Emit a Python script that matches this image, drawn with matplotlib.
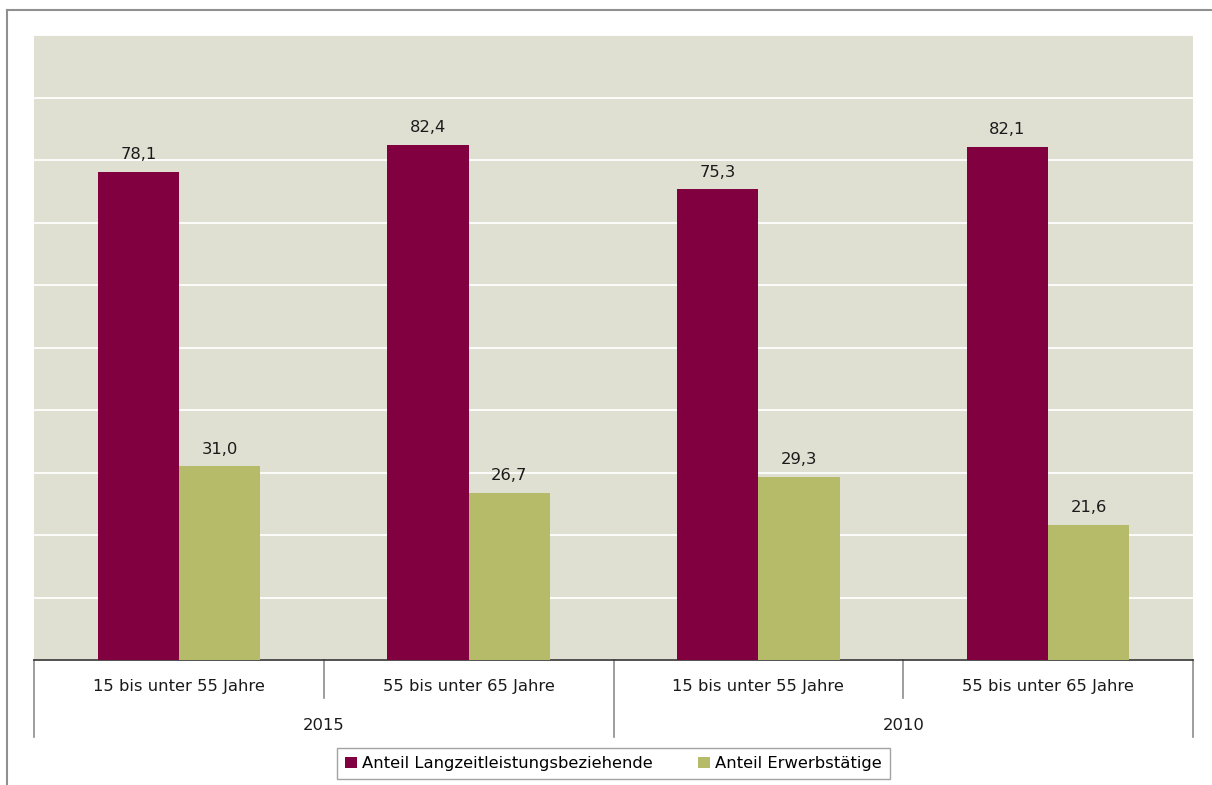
import matplotlib
matplotlib.use("Agg")
import matplotlib.pyplot as plt
from matplotlib.lines import Line2D
from matplotlib.patches import Patch
import matplotlib.transforms as mtransforms

# Data
age_groups = ["15 bis unter 55 Jahre", "55 bis unter 65 Jahre",
              "15 bis unter 55 Jahre", "55 bis unter 65 Jahre"]
years = ["2015", "2010"]
langzeit = [78.1, 82.4, 75.3, 82.1]
erwerb = [31.0, 26.7, 29.3, 21.6]
series_names = ["Anteil Langzeitleistungsbeziehende", "Anteil Erwerbstätige"]

MAROON = "#800040"
OLIVE = "#B6BB6A"
BG = "#DFE0D2"
FONT = "DejaVu Sans"

W, H = 1212, 785
fig = plt.figure(figsize=(W / 100, H / 100), dpi=100)
fig.patch.set_facecolor("white")

ax = fig.add_axes([34 / W, 1 - 660 / H, (1193 - 34) / W, (660 - 35) / H])
ax.set_facecolor(BG)

n = len(age_groups)
x = list(range(n))
bw = 0.28
b1 = ax.bar([i - bw / 2 for i in x], langzeit, width=bw, color=MAROON, zorder=3)
b2 = ax.bar([i + bw / 2 for i in x], erwerb, width=bw, color=OLIVE, zorder=3)

for bars, vals in ((b1, langzeit), (b2, erwerb)):
    for rect, v in zip(bars, vals):
        ax.annotate(f"{v:.1f}".replace(".", ","),
                    (rect.get_x() + rect.get_width() / 2, v),
                    xytext=(0, 7), textcoords="offset points",
                    ha="center", va="bottom", fontsize=11.8, family=FONT,
                    color="#1a1a1a")

ax.set_xlim(-0.5, n - 0.5)
ax.set_ylim(0, 100)
ax.set_yticks(range(0, 101, 10))
ax.yaxis.grid(True, color="white", linewidth=1.3, zorder=1)
ax.set_axisbelow(True)
ax.tick_params(left=False, labelleft=False, bottom=False, labelbottom=False)
for s in ("top", "right", "left"):
    ax.spines[s].set_visible(False)
ax.spines["bottom"].set_color("#333333")
ax.spines["bottom"].set_linewidth(1.2)

# Two-level category axis below the plot
trans = mtransforms.blended_transform_factory(ax.transData, ax.transAxes)
y_short = (660 - 698) / 625
y_long = (660 - 737) / 625
for i in range(n + 1):
    xb = i - 0.5
    yend = y_long if i % 2 == 0 else y_short
    ax.add_line(Line2D([xb, xb], [0, yend], transform=trans, color="#8c8c8c",
                       linewidth=1.2, clip_on=False))

for i, lab in enumerate(age_groups):
    ax.text(i, (660 - 687) / 625, lab, transform=trans, ha="center", va="center",
            fontsize=11.8, family=FONT, color="#1a1a1a")
for j, yr in enumerate(years):
    ax.text(2 * j + 0.5, (660 - 725) / 625, yr, transform=trans, ha="center",
            va="center", fontsize=11.8, family=FONT, color="#1a1a1a")

# Legend
handles = [Patch(facecolor=MAROON, edgecolor="none"),
           Patch(facecolor=OLIVE, edgecolor="none")]
leg = fig.legend(handles, series_names, loc="center",
                 bbox_to_anchor=(613.5 / W, 1 - 763.5 / H), ncol=2,
                 frameon=True, fancybox=False, edgecolor="#8c8c8c",
                 prop={"family": FONT, "size": 11.8},
                 handlelength=0.7, handleheight=0.7, handletextpad=0.3,
                 columnspacing=2.8, borderpad=0.5, borderaxespad=0.0)
leg.get_frame().set_linewidth(1.0)

# Outer frame lines (top and left)
fig.add_artist(Line2D([7 / W, 1], [1 - 10 / H, 1 - 10 / H], transform=fig.transFigure,
                      color="#909090", linewidth=1.5))
fig.add_artist(Line2D([7 / W, 7 / W], [0, 1 - 10 / H], transform=fig.transFigure,
                      color="#909090", linewidth=1.5))

fig.savefig("out.png", dpi=100)
